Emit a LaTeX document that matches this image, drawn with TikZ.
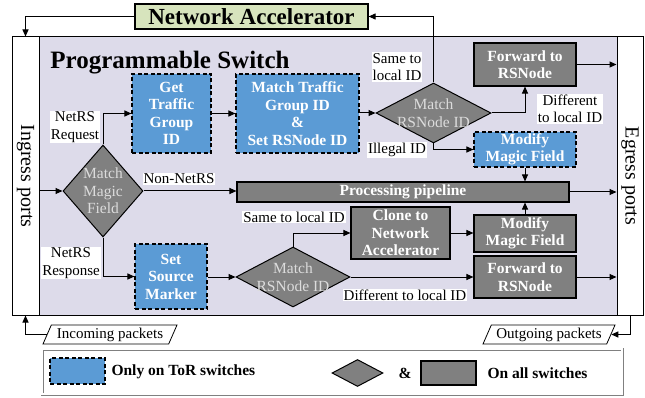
\documentclass[tikz,border=0pt]{standalone}
\usepackage{fontspec}
\setmainfont{Liberation Serif}
\usetikzlibrary{shapes.geometric,arrows.meta}
\definecolor{torblue}{RGB}{91,155,213}
\definecolor{allgrey}{RGB}{128,128,128}
\definecolor{swbg}{RGB}{221,219,234}
\definecolor{accgreen}{RGB}{215,228,189}
\definecolor{diatext}{RGB}{220,220,220}
\tikzset{
  arr/.style={line width=1pt,-{Triangle[length=7pt,width=6pt]}},
  torbox/.style={rectangle,draw,line width=1.1pt,dash pattern=on 4pt off 2.5pt,fill=torblue,text=white,align=center,inner sep=1pt,font=\fontsize{15.5}{17.5}\selectfont\bfseries},
  allbox/.style={rectangle,draw,line width=1.1pt,fill=allgrey,text=white,align=center,inner sep=1pt,font=\fontsize{15.5}{17.5}\selectfont\bfseries},
  dia/.style={diamond,draw,line width=1pt,fill=allgrey,inner sep=0pt},
  diatxt/.style={text=diatext,align=center,inner sep=0pt,font=\fontsize{15.5}{17.5}\selectfont},
  lbl/.style={fill=white,inner sep=1pt,align=center,font=\fontsize{15}{17.5}\selectfont},
  ports/.style={rectangle,draw,line width=1pt,fill=white,inner sep=0pt},
  pkt/.style={trapezium,trapezium left angle=62,trapezium right angle=118,trapezium stretches body,draw,line width=0.8pt,fill=white,inner sep=1pt,minimum height=19pt,font=\fontsize{15}{16}\selectfont},
  legtext/.style={font=\fontsize{15.5}{16}\selectfont\bfseries,anchor=west}
}
\begin{document}
\begin{tikzpicture}[x=1pt,y=-1pt]
\useasboundingbox (0,0) rectangle (645,398);
% switch background
\node[rectangle,draw,line width=1pt,fill=swbg,minimum width=579pt,minimum height=278pt,inner sep=0pt] (sw) at (327.5,176) {};
\node[ports,minimum width=27pt,minimum height=278pt] (ingress) at (25.5,176) {};
\node[rotate=-90,font=\fontsize{20}{22}\selectfont] (ingtxt) at (25.5,176) {Ingress ports};
\node[ports,minimum width=26pt,minimum height=278pt] (egress) at (630,176) {};
\node[rotate=-90,font=\fontsize{20}{22}\selectfont] (egtxt) at (630,176) {Egress ports};
\node[font=\fontsize{25}{27}\selectfont\bfseries] (title) at (170,63) {Programmable Switch};
% network accelerator
\node[rectangle,draw,line width=1.2pt,fill=accgreen,minimum width=233pt,minimum height=25pt,inner sep=0pt,font=\fontsize{23}{24}\selectfont\bfseries] (netacc) at (251.5,16.5) {Network Accelerator};
% main nodes
\node[torbox,minimum width=79pt,minimum height=79pt] (get) at (171.5,113.5) {Get\\Traffic\\Group\\ID};
\node[torbox,minimum width=123pt,minimum height=79pt] (mtg) at (297.5,113.5) {Match Traffic\\Group ID\\\&\\Set RSNode ID};
\node[dia,minimum width=80pt,minimum height=92pt] (mmf) at (103,191) {};
\node[diatxt] (mmftxt) at (mmf) {Match\\Magic\\Field};
\node[allbox,minimum width=332pt,minimum height=20pt] (pp) at (403,192) {Processing pipeline};
\node[torbox,minimum width=72pt,minimum height=65pt] (ssm) at (171,276.5) {Set\\Source\\Marker};
\node[dia,minimum width=114pt,minimum height=60pt] (mrl) at (293,277) {};
\node[diatxt] (mrltxt) at (mrl) {Match\\RSNode ID};
\node[allbox,minimum width=99pt,minimum height=52pt] (clone) at (400.5,233) {Clone to\\Network\\Accelerator};
\node[allbox,minimum width=102pt,minimum height=37pt] (modl) at (525,233.5) {Modify\\Magic Field};
\node[allbox,minimum width=102pt,minimum height=42pt] (fwdl) at (525,277) {Forward to\\RSNode};
\node[dia,minimum width=115pt,minimum height=60pt] (mru) at (433.5,113) {};
\node[diatxt] (mrutxt) at (mru) {Match\\RSNode ID};
\node[allbox,minimum width=102pt,minimum height=43pt] (fwdu) at (525,64.5) {Forward to\\RSNode};
\node[torbox,minimum width=102pt,minimum height=35pt] (modu) at (525,149.5) {Modify\\Magic Field};
% packets
\node[pkt,minimum width=134pt] (inc) at (110,334.5) {Incoming packets};
\node[pkt,minimum width=132pt] (out) at (549,334.5) {Outgoing packets};
% connectors
\draw[arr] (netacc.west) -| (ingress.north);
\draw[arr] (mru.north) |- (netacc.east);
\draw[arr] (ingress.east |- mmf.west) -- (mmf.west);
\draw[arr] (mmf.north) |- (get.west);
\draw[arr] (get.east) -- (mtg.west);
\draw[arr] (mtg.east |- mru.west) -- (mru.west);
\draw[arr] (mmf.east) -- (mmf.east -| pp.west);
\draw[arr] (mmf.south) |- (ssm.west);
\draw[arr] (ssm.east |- mrl.west) -- (mrl.west);
\draw[arr] (mrl.north) |- (clone.west);
\draw[arr] (mrl.east) -- (mrl.east -| fwdl.west);
\draw[arr] (clone.east) -- (clone.east -| modl.west);
\draw[arr] (modl.north) -- (pp.south -| modl.north);
\draw[arr] (fwdl.east) -- (fwdl.east -| egress.west);
\draw[arr] (pp.east) -- (pp.east -| egress.west);
\draw[arr] (mru.east) -| (fwdu.south);
\draw[arr] (fwdu.east) -- (fwdu.east -| egress.west);
\draw[arr] (mru.south) |- (modu.west);
\draw[arr] (modu.south) -- (pp.north -| modu.south);
\draw[arr] (egress.south) |- (out.east);
\draw[arr] (inc.west) -| (ingress.south);
% labels
\node[lbl] (l1) at (75,127) {NetRS\\Request};
\node[lbl] (l2) at (179,179) {Non-NetRS};
\node[lbl] (l3) at (71,263) {NetRS\\Response};
\node[lbl] (l4) at (294,217) {Same to local ID};
\node[lbl] (l5) at (405,295) {Different to local ID};
\node[lbl] (l6) at (397,67) {Same to\\local ID};
\node[lbl] (l7) at (570,109) {Different\\to local ID};
\node[lbl] (l8) at (397,150) {Illegal ID};
% legend
\node[rectangle,draw=gray,line width=0.7pt,double=white,double distance=1.6pt,minimum width=580pt,minimum height=45pt,inner sep=0pt] (legend) at (332,371.5) {};
\node[torbox,minimum width=55pt,minimum height=26pt] (legtor) at (77.5,371) {};
\node[legtext] (legtortxt) at (108,372) {Only on ToR switches};
\node[dia,minimum width=51pt,minimum height=27pt] (legdia) at (357.5,373) {};
\node[font=\fontsize{15.5}{16}\selectfont\bfseries] (amp) at (405,373) {\&};
\node[allbox,minimum width=55pt,minimum height=24pt] (legall) at (448.5,373) {};
\node[legtext] (legalltxt) at (484,373) {On all switches};
\end{tikzpicture}
\end{document}
